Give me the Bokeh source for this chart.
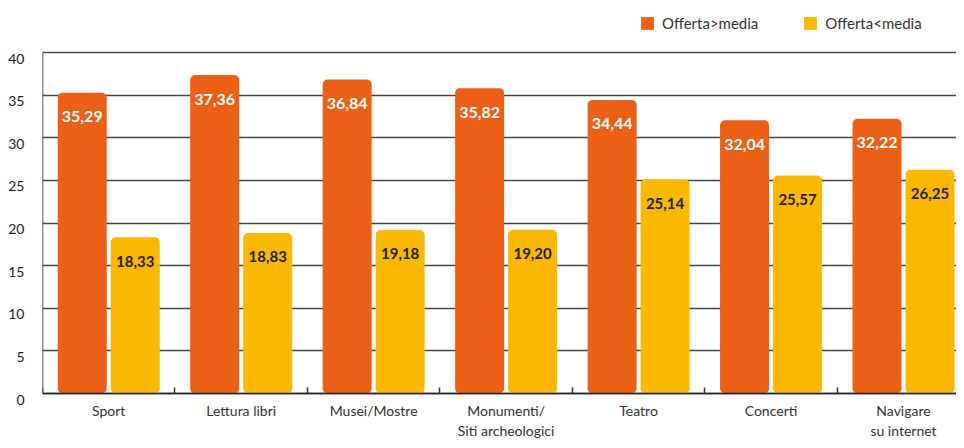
from bokeh.plotting import figure
from bokeh.models import Range1d, FixedTicker, ColumnDataSource, Legend, LegendItem, LinearAxis
from bokeh.core.properties import value
from bokeh.embed import file_html
from bokeh.resources import INLINE

categories = ["Sport", "Lettura libri", "Musei/Mostre", "Monumenti/\nSiti archeologici",
              "Teatro", "Concerti", "Navigare\nsu internet"]
sopra = [35.29, 37.36, 36.84, 35.82, 34.44, 32.04, 32.22]
sotto = [18.33, 18.83, 19.18, 19.20, 25.14, 25.57, 26.25]
series_names = ["Offerta>media", "Offerta<media"]
y_ticks = [0, 5, 10, 15, 20, 25, 30, 35, 40]

ORANGE = "#EB6016"
YELLOW = "#FBB800"
FONT = "Lato"

def fmt(v):
    return f"{v:.2f}".replace(".", ",")

n = len(categories)
centers = [i + 0.5 for i in range(n)]
boundaries = [i for i in range(n + 1)]

src_a = ColumnDataSource(dict(x=[c - 0.2 for c in centers], y=sopra, t=[fmt(v) for v in sopra]))
src_b = ColumnDataSource(dict(x=[c + 0.2 for c in centers], y=sotto, t=[fmt(v) for v in sotto]))

# frame spans the whole canvas height: y=40 sits at 52px, y=0 at 393px
PX = (393 - 52) / 40.0
Y1 = 393 / PX
Y0 = -(440 - 393) / PX
shift = 6 / PX  # tick labels sit slightly below their gridline

p = figure(width=956, height=440, output_backend="svg", toolbar_location=None,
           x_range=Range1d(0, 6.9), y_range=Range1d(Y0, Y1), y_axis_location=None,
           min_border_left=42, min_border_right=0, min_border_top=0, min_border_bottom=0)
p.outline_line_color = None
p.extra_y_ranges = {"lab": Range1d(Y0 + shift, Y1 + shift)}

r1 = p.vbar(x="x", top="y", width=0.37, source=src_a, color=ORANGE, line_color=None, border_radius=5)
r2 = p.vbar(x="x", top="y", width=0.37, source=src_b, color=YELLOW, line_color=None, border_radius=5)

p.text(x="x", y="y", text="t", source=src_a, text_color="white", text_font=value(FONT),
       text_font_style="bold", text_font_size="16px", text_align="center",
       text_baseline="middle", y_offset=24)
p.text(x="x", y="y", text="t", source=src_b, text_color="#222222", text_font=value(FONT),
       text_font_style="bold", text_font_size="15px", text_align="center",
       text_baseline="middle", y_offset=24)

# x axis, pinned at y = 0
p.xaxis.fixed_location = 0
p.xaxis.ticker = FixedTicker(ticks=centers, minor_ticks=boundaries)
p.xaxis.major_label_overrides = {c: lab for c, lab in zip(centers, categories)}
p.xaxis.major_tick_line_color = None
p.xaxis.minor_tick_in = 6
p.xaxis.minor_tick_out = 0
p.xaxis.minor_tick_line_color = "#333333"
p.xaxis.minor_tick_line_width = 1.5
p.xaxis.axis_line_color = "#222222"
p.xaxis.axis_line_width = 1.5
p.xaxis.major_label_text_font = FONT
p.xaxis.major_label_text_font_size = "14px"
p.xaxis.major_label_text_color = "#333333"
p.xaxis.major_label_standoff = 2

# y axis: labels on a slightly shifted range, line pinned at x = 0
ylab = LinearAxis(y_range_name="lab", ticker=FixedTicker(ticks=y_ticks),
                  axis_line_color=None, major_tick_line_color=None, minor_tick_line_color=None,
                  major_label_text_font=FONT, major_label_text_font_size="14px",
                  major_label_text_color="#222222", major_label_standoff=12)
p.add_layout(ylab, "left")
yline = LinearAxis(fixed_location=0, bounds=(0, 40), ticker=FixedTicker(ticks=y_ticks),
                   axis_line_color="#222222", axis_line_width=1.5,
                   major_tick_line_color=None, minor_tick_line_color=None,
                   major_label_text_font_size="14px", major_label_text_alpha=0)
p.add_layout(yline, "left")

p.xgrid.grid_line_color = None
p.ygrid.ticker = FixedTicker(ticks=y_ticks)
p.ygrid.grid_line_color = "#444444"
p.ygrid.grid_line_width = 1.4

legend = Legend(items=[LegendItem(label=series_names[0], renderers=[r1]),
                       LegendItem(label=series_names[1], renderers=[r2])],
                orientation="horizontal", location=(597, 408),
                border_line_color=None, background_fill_alpha=0,
                padding=0, margin=0, spacing=44,
                glyph_width=16, glyph_height=16, label_standoff=7,
                label_text_font=FONT, label_text_font_size="15px",
                label_text_color="#333333")
p.add_layout(legend, "center")

open("out.html", "w").write(file_html(p, INLINE))
